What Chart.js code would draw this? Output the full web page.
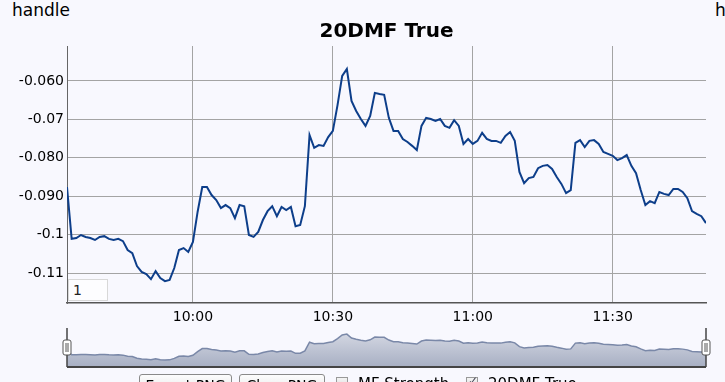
<!DOCTYPE html>
<html>
<head>
<meta charset="utf-8">
<script src="https://cdn.jsdelivr.net/npm/chart.js@4.4.1/dist/chart.umd.min.js"></script>
<style>
  body { margin:0; background:#f8f8fe; font-family:"DejaVu Sans", Verdana, sans-serif; width:725px; height:382px; overflow:hidden; position:relative; }
  canvas { position:absolute; left:0; }
  #main { top:0; }
  #nav { top:320px; }
  .txt { position:absolute; color:#000; white-space:nowrap; }
  .btn { position:absolute; top:374px; height:22px; border:1px solid #8a8a8a; border-radius:3px; background:linear-gradient(#fdfdfd,#e4e4e4); font-size:14px; box-sizing:border-box; padding:2px 0 0 0; text-align:center; white-space:nowrap; overflow:hidden; }
  .chk { position:absolute; top:377px; width:12px; height:12px; border:1px solid #999; background:linear-gradient(#f4f4f4,#dcdcdc); box-sizing:border-box; }
  #range { position:absolute; left:68px; top:279px; width:40px; height:22px; border:1px solid #d8d8d8; background:#fdfdff; box-sizing:border-box; font-size:14px; padding:2px 0 0 4px; color:#222; }
</style>
</head>
<body>
<div class="txt" style="left:12px;top:0px;font-size:17px;">handle</div>
<div class="txt" style="left:715px;top:0px;font-size:17px;">h</div>
<canvas id="main" width="725" height="330"></canvas>
<div id="range">1</div>
<canvas id="nav" width="725" height="52"></canvas>
<div class="btn" style="left:139px;width:93px;">Export PNG</div>
<div class="btn" style="left:239px;width:86px;">Clear PNG</div>
<div class="chk" style="left:336px;"></div>
<div class="txt" style="left:358px;top:375px;font-size:15px;">MF Strength</div>
<div class="chk" style="left:466px;"><span style="position:absolute;left:1px;top:-4px;font-size:12px;color:#445;">✓</span></div>
<div class="txt" style="left:488px;top:375px;font-size:15px;">20DMF True</div>
<script>
// 20DMF True, one value per minute starting 9:33
var values = [
  -0.0876, -0.1011, -0.1009, -0.1001, -0.1006, -0.1009, -0.1014, -0.1006, -0.1004, -0.1011,
  -0.1014, -0.1011, -0.1017, -0.1040, -0.1048, -0.1082, -0.1097, -0.1103, -0.1116, -0.1095,
  -0.1113, -0.1121, -0.1118, -0.1087, -0.1040, -0.1035, -0.1045, -0.1019, -0.0941, -0.0876,
  -0.0876, -0.0897, -0.0910, -0.0931, -0.0923, -0.0931, -0.0957, -0.0923, -0.0926, -0.1001,
  -0.1006, -0.0993, -0.0962, -0.0939, -0.0926, -0.0952, -0.0928, -0.0936, -0.0928, -0.0978,
  -0.0975, -0.0926, -0.0741, -0.0774, -0.0767, -0.0769, -0.0746, -0.0730, -0.0663, -0.0587,
  -0.0569, -0.0652, -0.0678, -0.0699, -0.0717, -0.0691, -0.0631, -0.0634, -0.0636, -0.0696,
  -0.0730, -0.0730, -0.0751, -0.0759, -0.0769, -0.0780, -0.0717, -0.0696, -0.0699, -0.0704,
  -0.0699, -0.0717, -0.0722, -0.0702, -0.0717, -0.0764, -0.0751, -0.0764, -0.0756, -0.0735,
  -0.0751, -0.0756, -0.0756, -0.0761, -0.0743, -0.0733, -0.0756, -0.0837, -0.0866, -0.0853,
  -0.0850, -0.0827, -0.0821, -0.0819, -0.0829, -0.0850, -0.0868, -0.0892, -0.0884, -0.0761,
  -0.0754, -0.0772, -0.0756, -0.0754, -0.0764, -0.0785, -0.0790, -0.0795, -0.0806, -0.0801,
  -0.0793, -0.0821, -0.0840, -0.0884, -0.0923, -0.0913, -0.0918, -0.0889, -0.0894, -0.0897,
  -0.0881, -0.0881, -0.0889, -0.0905, -0.0939, -0.0946, -0.0952, -0.0970
];

// x ticks (minutes after 9:33)
var xTickPos = [27, 57, 87, 117];
var xTickLabels = ["10:00", "10:30", "11:00", "11:30"];

// y ticks
var yTickPos = [-0.11, -0.10, -0.09, -0.08, -0.07, -0.06];
var yTickLabels = ["-0.11", "-0.1", "-0.090", "-0.080", "-0.07", "-0.060"];

var points = values.map(function(v, i){ return {x: i, y: v}; });
var tickFont = {family: "DejaVu Sans", size: 14};

new Chart(document.getElementById("main"), {
  type: "line",
  data: {
    datasets: [{
      label: "20DMF True",
      data: points,
      borderColor: "#0d3e8a",
      borderWidth: 2,
      pointRadius: 0,
      tension: 0,
      fill: false
    }]
  },
  options: {
    responsive: false,
    animation: false,
    layout: { padding: { left: 0, right: 19, top: 0, bottom: 0 } },
    plugins: {
      legend: { display: false },
      tooltip: { enabled: false },
      title: {
        display: true,
        fullSize: false, // centre over the plot, not the canvas
        text: "20DMF True",
        color: "#000",
        font: { family: "DejaVu Sans", size: 20, weight: "bold" },
        padding: { top: 20, bottom: 2 }
      }
    },
    scales: {
      x: {
        type: "linear",
        min: 0,
        max: values.length - 1,
        afterBuildTicks: function(scale){ scale.ticks = xTickPos.map(function(v){ return {value: v}; }); },
        afterFit: function(scale){ scale.height = 27; },
        ticks: {
          color: "#000",
          font: tickFont,
          padding: 6,
          maxRotation: 0,
          callback: function(v){ return xTickLabels[xTickPos.indexOf(v)]; }
        },
        grid: { color: "#a4a4a4", drawTicks: false },
        border: { color: "#555", width: 1.5 }
      },
      y: {
        min: -0.1178,
        max: -0.0509,
        afterBuildTicks: function(scale){ scale.ticks = yTickPos.map(function(v){ return {value: v}; }); },
        afterFit: function(scale){ scale.width = 67; },
        ticks: {
          color: "#000",
          font: tickFont,
          padding: 3,
          callback: function(v){
            for (var i = 0; i < yTickPos.length; i++) {
              if (Math.abs(yTickPos[i] - v) < 1e-9) return yTickLabels[i];
            }
            return "";
          }
        },
        grid: { color: "#a4a4a4", drawTicks: false },
        border: { color: "#666", width: 1 }
      }
    }
  }
});

// navigator frame and handles
var navDecor = {
  id: "navDecor",
  afterDraw: function(chart){
    var a = chart.chartArea, ctx = chart.ctx;
    ctx.save();
    ctx.strokeStyle = "#444";
    ctx.lineWidth = 2;
    ctx.beginPath();
    ctx.moveTo(a.left, a.bottom);
    ctx.lineTo(a.right, a.bottom);
    ctx.stroke();
    ctx.lineWidth = 1.5;
    [a.left, a.right].forEach(function(x){
      ctx.beginPath();
      ctx.moveTo(x, a.top - 1);
      ctx.lineTo(x, a.bottom);
      ctx.stroke();
      ctx.fillStyle = "#fff";
      ctx.strokeStyle = "#555";
      ctx.lineWidth = 1;
      ctx.beginPath();
      ctx.roundRect(x - 4, 20, 8, 15, 2);
      ctx.fill();
      ctx.stroke();
      ctx.beginPath();
      ctx.moveTo(x - 1, 23); ctx.lineTo(x - 1, 32);
      ctx.moveTo(x + 1, 23); ctx.lineTo(x + 1, 32);
      ctx.stroke();
      ctx.strokeStyle = "#444";
      ctx.lineWidth = 1.5;
    });
    ctx.restore();
  }
};

new Chart(document.getElementById("nav"), {
  type: "line",
  data: {
    datasets: [{
      data: points,
      borderColor: "#7a88a8",
      borderWidth: 1.5,
      pointRadius: 0,
      tension: 0,
      fill: "start",
      backgroundColor: function(c){
        var a = c.chart.chartArea;
        if (!a) return "#c0c6d4";
        var g = c.chart.ctx.createLinearGradient(0, a.top, 0, a.bottom);
        g.addColorStop(0, "#d9dce6");
        g.addColorStop(1, "#a7afc3");
        return g;
      }
    }]
  },
  options: {
    responsive: false,
    animation: false,
    layout: { padding: { left: 67, right: 19, top: 9, bottom: 5 } },
    plugins: { legend: { display: false }, tooltip: { enabled: false } },
    scales: {
      x: { type: "linear", display: false, min: 0, max: values.length - 1 },
      y: { display: false, min: -0.127, max: -0.046 }
    }
  },
  plugins: [navDecor]
});
</script>
</body>
</html>
